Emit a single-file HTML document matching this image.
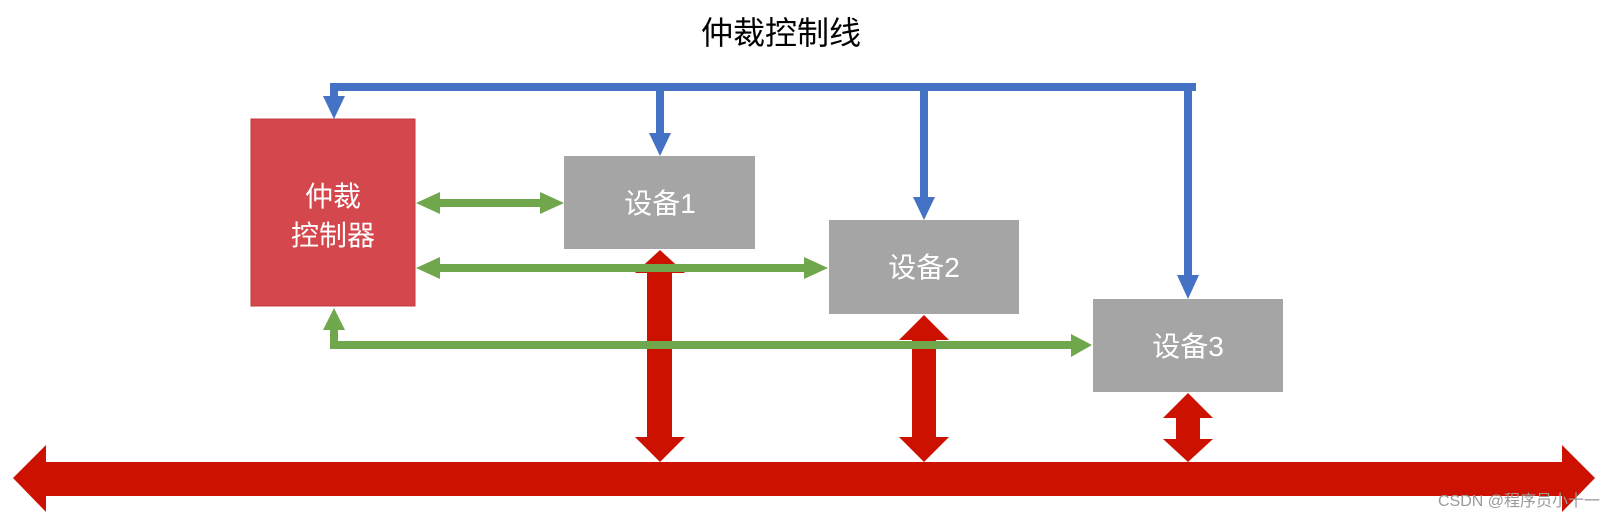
<!DOCTYPE html>
<html><head><meta charset="utf-8"><style>
html,body{margin:0;padding:0;background:#fff;}
svg{display:block;}
text{font-family:"Liberation Sans","Noto Sans CJK SC",sans-serif;}
</style></head><body>
<svg width="1616" height="519" viewBox="0 0 1616 519" xmlns="http://www.w3.org/2000/svg">
<text x="781" y="44" font-size="32" text-anchor="middle" fill="#000">仲裁控制线</text>

<!-- red vertical arrows -->
<g fill="#cc1100">
<polygon points="660,250 685,273 672,273 672,437 685,437 660,462 635,437 647,437 647,273 635,273"/>
<polygon points="924,315 949,340 936,340 936,437 949,437 924,462 899,437 912,437 912,340 899,340"/>
<polygon points="1188,393 1213,418 1200,418 1200,439 1213,439 1188,462 1163,439 1176,439 1176,418 1163,418"/>
<!-- bus -->
<polygon points="13,478 46,445 46,462 1562,462 1562,445 1595,478 1562,512 1562,496 46,496 46,512"/>
</g>

<!-- boxes -->
<rect x="251" y="119" width="164" height="187" fill="#d4474c" stroke="#c0393e" stroke-width="1"/>
<rect x="564" y="156" width="191" height="93" fill="#a5a5a5"/>
<rect x="829" y="220" width="190" height="94" fill="#a5a5a5"/>
<rect x="1093" y="299" width="190" height="93" fill="#a5a5a5"/>

<g fill="#fff" font-size="28" text-anchor="middle">
<text x="333" y="206">仲裁</text>
<text x="333" y="245">控制器</text>
<text x="660" y="213">设备1</text>
<text x="924" y="277">设备2</text>
<text x="1188" y="356">设备3</text>
</g>

<!-- blue lines -->
<g fill="#4472c4">
<rect x="330" y="83" width="866" height="8"/>
<rect x="330" y="83" width="8" height="14"/>
<polygon points="323,96 345,96 334,119"/>
<rect x="656" y="83" width="8" height="52"/>
<polygon points="649,133 671,133 660,156"/>
<rect x="920" y="83" width="8" height="116"/>
<polygon points="913,197 935,197 924,220"/>
<rect x="1184" y="83" width="8" height="194"/>
<polygon points="1177,275 1199,275 1188,299"/>
</g>

<!-- green arrows -->
<g fill="#70a64c">
<polygon points="416,203 440,192 440,199 540,199 540,192 564,203 540,214 540,207 440,207 440,214"/>
<polygon points="416,268 440,257 440,264 804,264 804,257 828,268 804,279 804,272 440,272 440,279"/>
<polygon points="334,308 345,330 338,330 338,341 1071,341 1071,334 1092,345 1071,357 1071,349 330,349 330,330 323,330"/>
</g>

<text x="1600" y="506" font-size="16" text-anchor="end" fill="#9a9a9a">CSDN @程序员小十一</text>
</svg>
</body></html>
